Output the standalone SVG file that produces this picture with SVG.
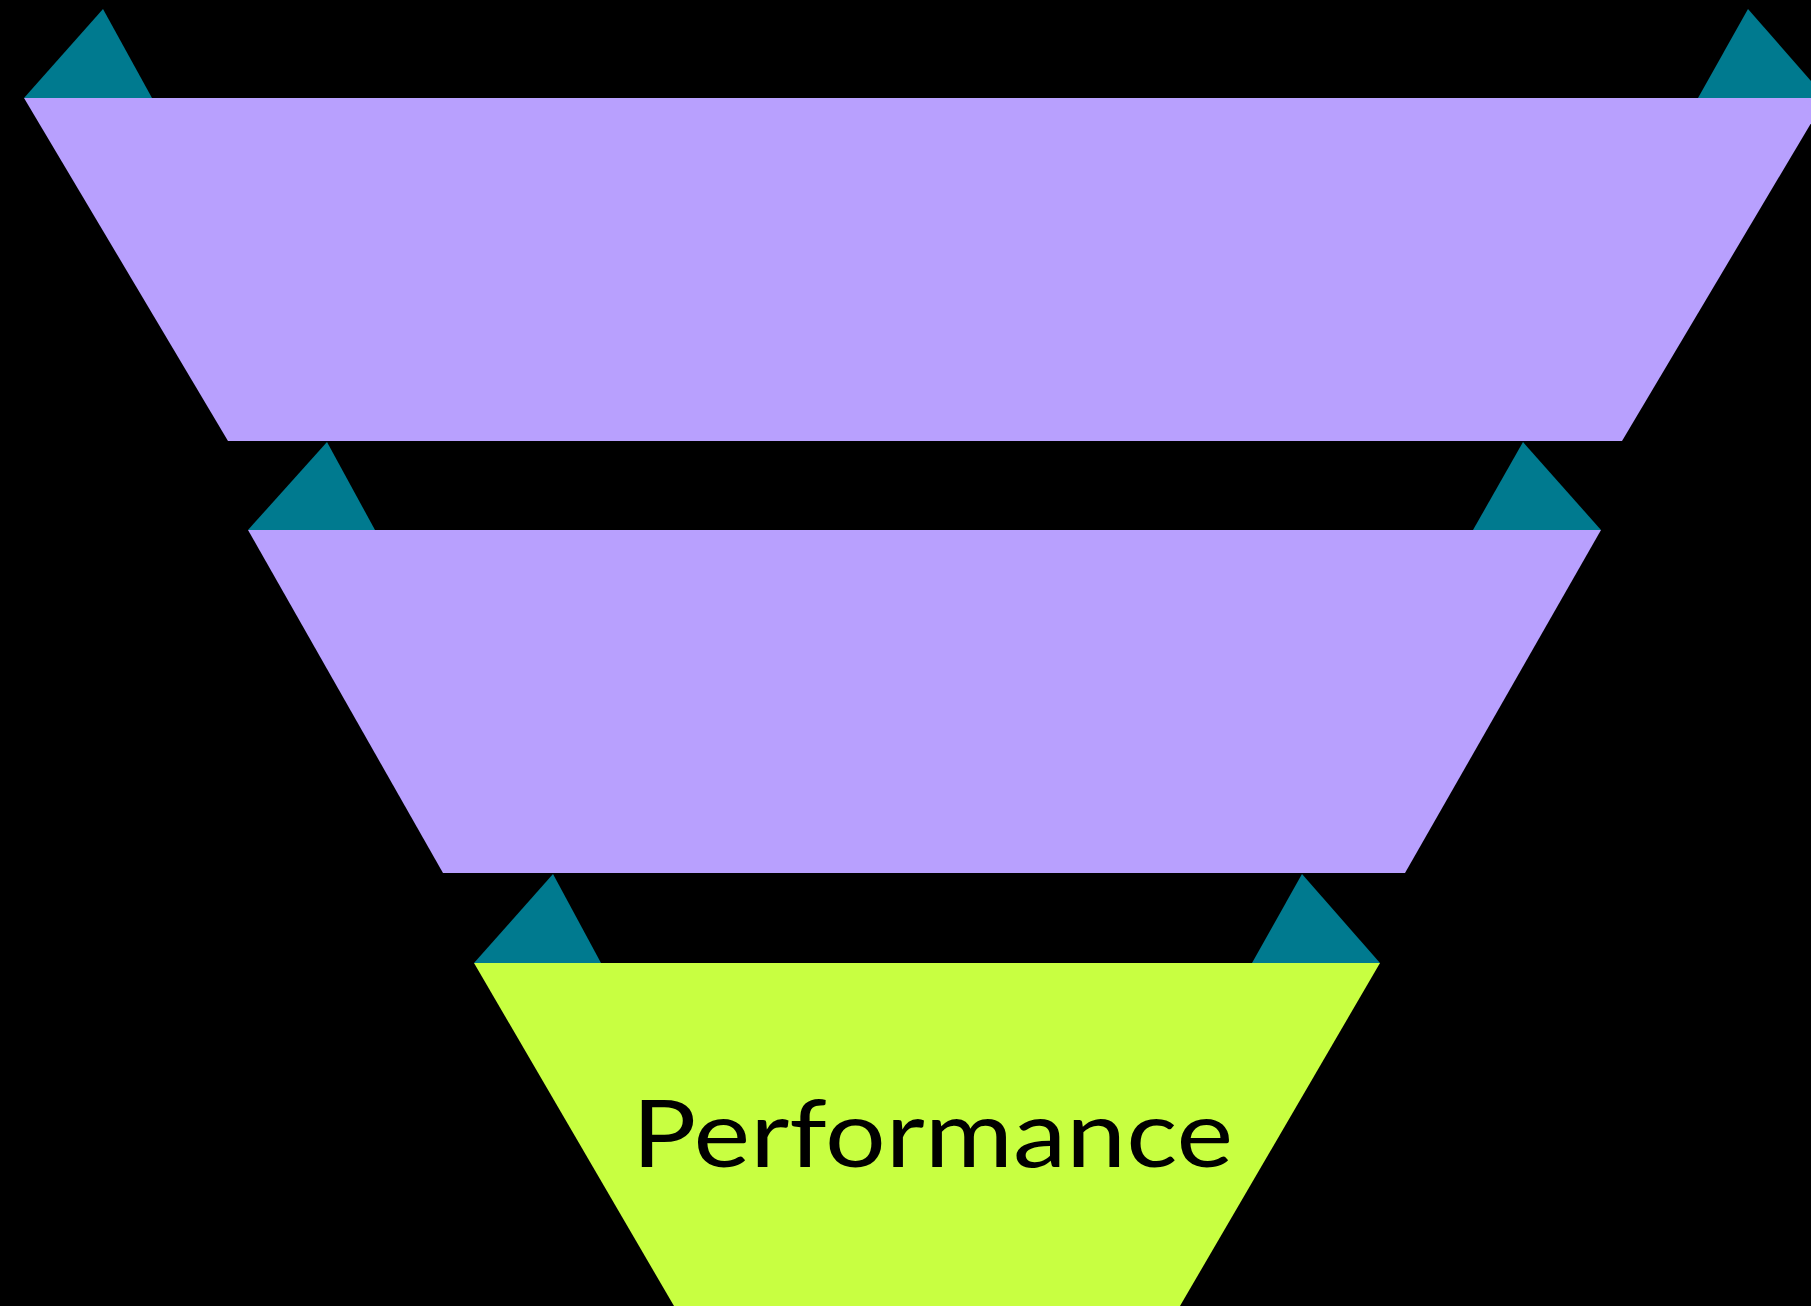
<svg xmlns="http://www.w3.org/2000/svg" width="1811" height="1306" viewBox="0 0 1811 1306">
<style>
.tri{fill:#007A8F}
.stage{fill:#B8A0FE}
.perf{fill:#C8FF41}
.lbl{font-family:"Lato","Liberation Sans",sans-serif;font-size:94px;fill:#000}
</style>
<rect width="1811" height="1306" fill="#000"/>
<g id="connectors">
<polygon class="tri" points="103,9 24,98 152,98"/>
<polygon class="tri" points="1748,9 1698,98 1826,98"/>
<polygon class="tri" points="327,442 248,530 375,530"/>
<polygon class="tri" points="1523,442 1473,530 1601,530"/>
<polygon class="tri" points="553,874 474,963 601,963"/>
<polygon class="tri" points="1302,874 1252,963 1380,963"/>
</g>
<g id="stage1">
<polygon class="stage" points="24,98 1826,98 1622,441 228,441"/>
</g>
<g id="stage2">
<polygon class="stage" points="248,530 1601,530 1405,873 443,873"/>
</g>
<g id="stage3">
<polygon class="perf" points="474,963 1380,963 1180,1306 674,1306"/>
<text class="lbl" x="632" y="1167" textLength="601" lengthAdjust="spacingAndGlyphs">Performance</text>
</g>
</svg>
